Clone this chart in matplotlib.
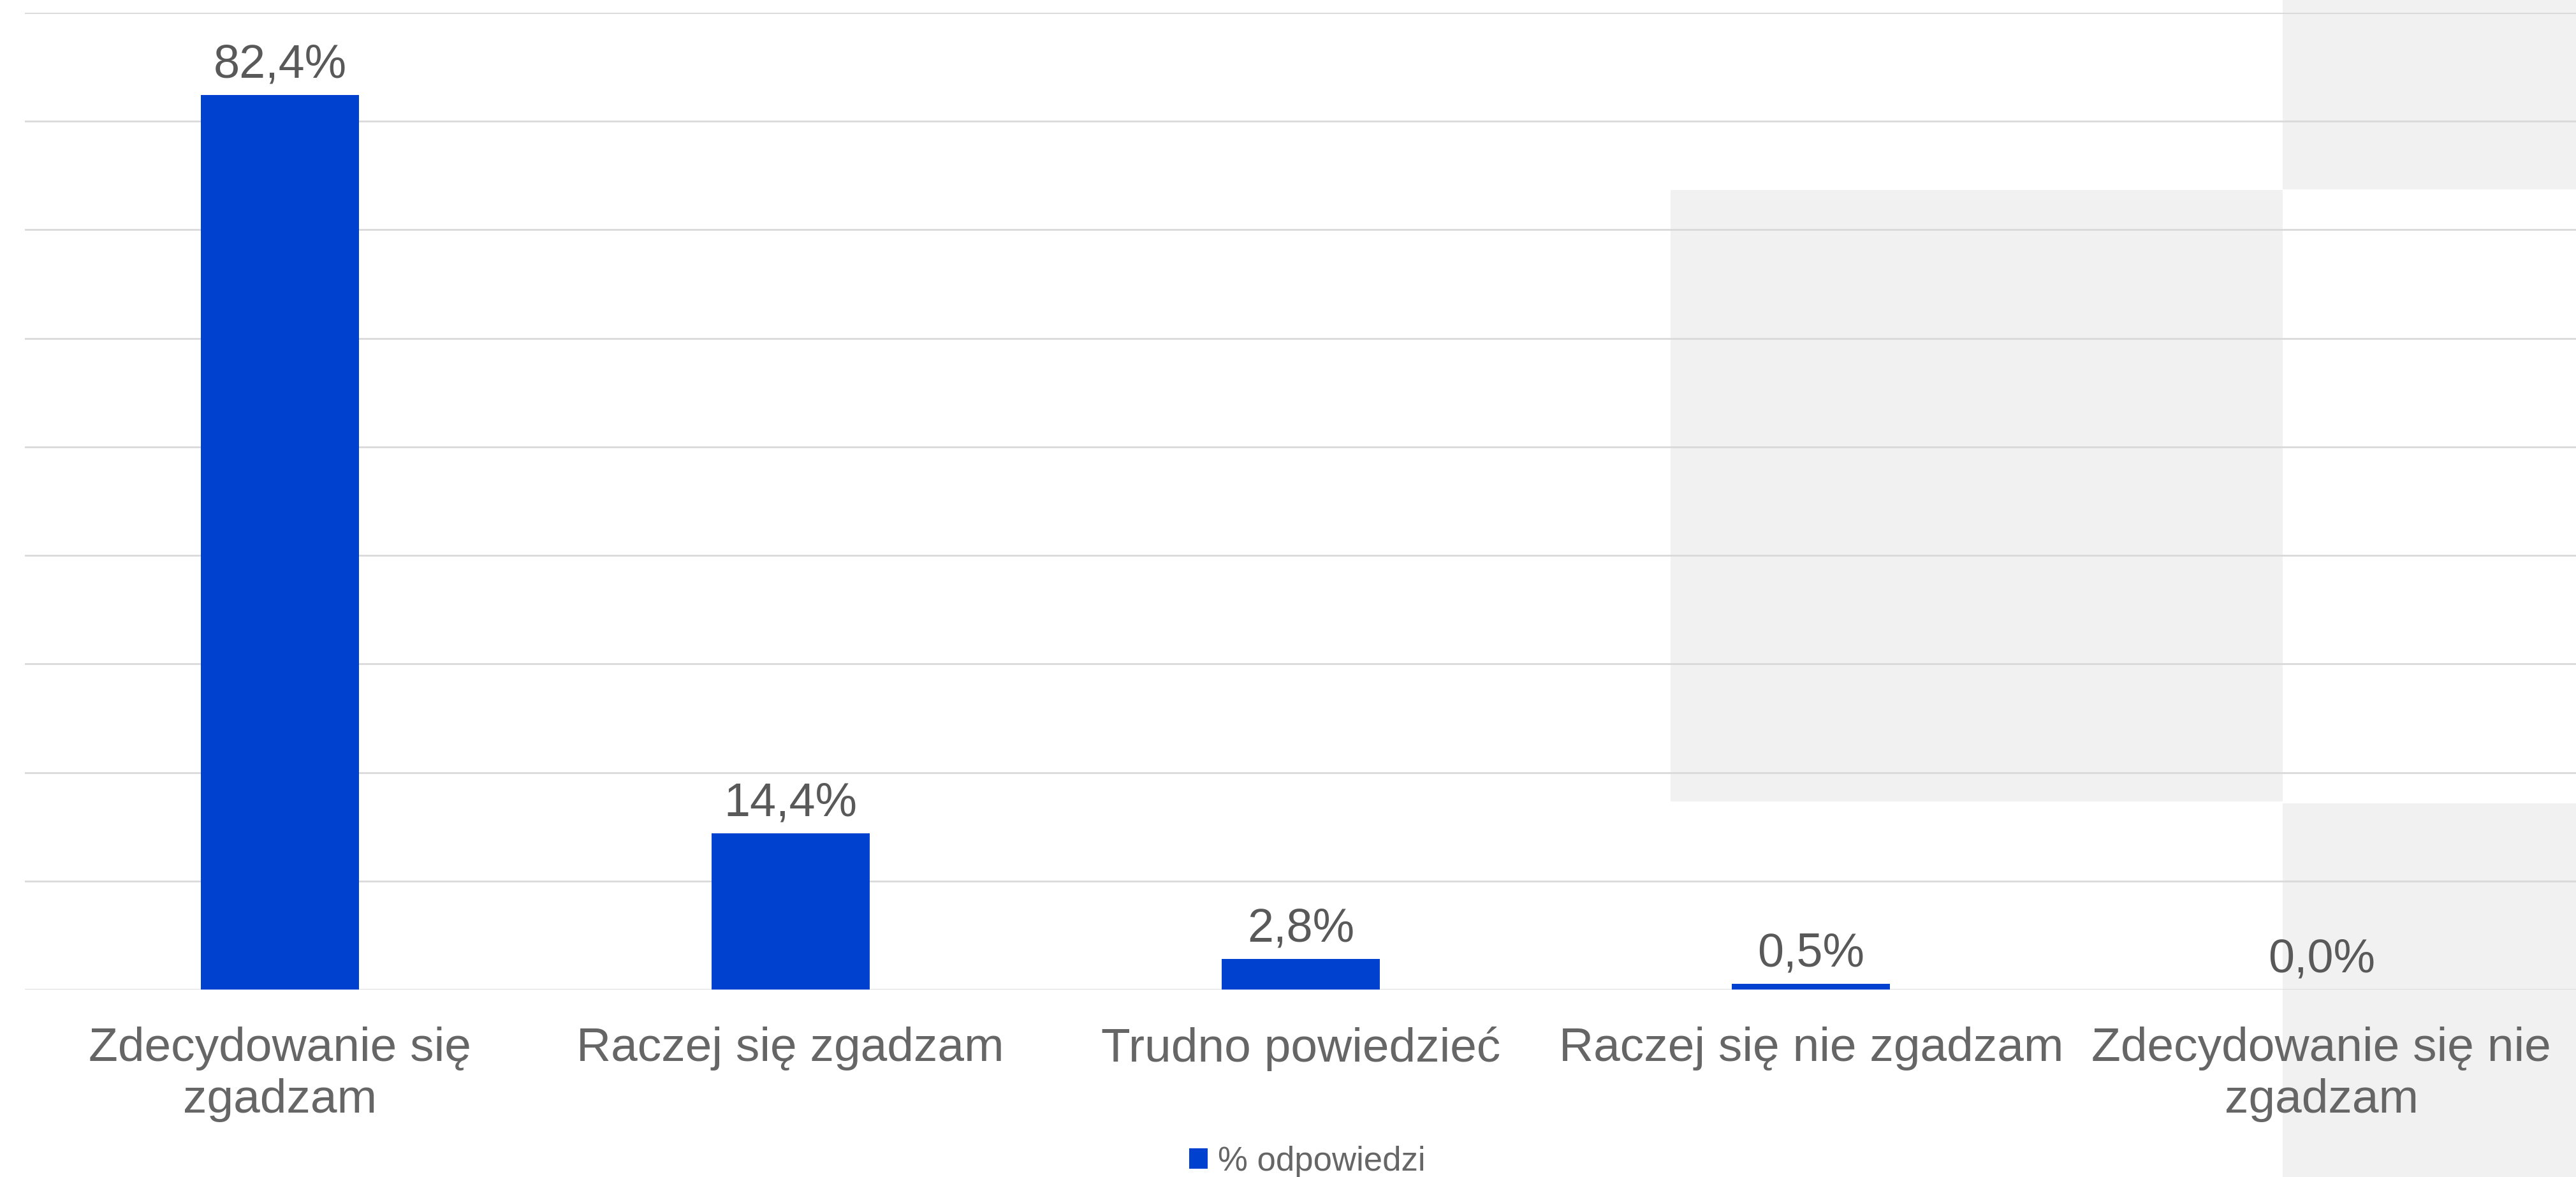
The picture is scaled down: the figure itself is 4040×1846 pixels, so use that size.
import matplotlib
matplotlib.use("Agg")
import matplotlib.pyplot as plt
from matplotlib.patches import Rectangle, Patch

categories = ["Zdecydowanie się\nzgadzam", "Raczej się zgadzam", "Trudno powiedzieć",
              "Raczej się nie zgadzam", "Zdecydowanie się nie\nzgadzam"]
values = [82.4, 14.4, 2.8, 0.5, 0.0]
value_labels = ["82,4%", "14,4%", "2,8%", "0,5%", "0,0%"]
series_name = "% odpowiedzi"

W, H = 4041, 1846
plt.rcParams['font.family'] = ['Liberation Sans', 'DejaVu Sans']
fig = plt.figure(figsize=(W / 100, H / 100), dpi=100)
fig.patch.set_facecolor("white")

# background grey blocks (page decoration)
grey = "#f1f1f1"
for (x0, y0, x1, y1) in [(3580, 0, W, 297), (2620, 298, 3580, 1257), (3580, 1260, W, H)]:
    fig.patches.append(Rectangle((x0 / W, 1 - y1 / H), (x1 - x0) / W, (y1 - y0) / H,
                                 transform=fig.transFigure, facecolor=grey,
                                 edgecolor="none", zorder=-5))

left = 39 / W
bottom = 1 - 1552 / H
top = 1 - 20 / H
ax = fig.add_axes([left, bottom, 1.0 - left, top - bottom])
ax.set_facecolor("none")

x = list(range(len(categories)))
bars = ax.bar(x, values, width=0.31, color="#0041D0", zorder=3)
ax.set_xlim(-0.5, len(categories) - 0.5)
ax.set_ylim(0, 90)
ax.set_yticks([0, 10, 20, 30, 40, 50, 60, 70, 80, 90])
ax.yaxis.grid(True, color="#d9d9d9", linewidth=2.0, zorder=0)
ax.set_axisbelow(True)
for s in ax.spines.values():
    s.set_visible(False)
ax.tick_params(axis="y", length=0, labelleft=False)
ax.tick_params(axis="x", length=0, pad=42, labelsize=54, labelcolor="#666666")
ax.set_xticks(x)
ax.set_xticklabels(categories, linespacing=1.22)

for b, lab in zip(bars, value_labels):
    ax.annotate(lab, (b.get_x() + b.get_width() / 2, b.get_height()),
                xytext=(0, 9), textcoords="offset points", ha="center", va="bottom",
                fontsize=53, color="#595959", zorder=4)

handle = Patch(facecolor="#0041D0", edgecolor="none")
fig.legend([handle], [series_name], loc="center",
           bbox_to_anchor=(2050 / W, 1 - 1822 / H), frameon=False,
           fontsize=38, labelcolor="#666666", handlelength=0.55, handleheight=0.55,
           handletextpad=0.3, borderpad=0)

fig.savefig("out.png", dpi=100, facecolor="white")
